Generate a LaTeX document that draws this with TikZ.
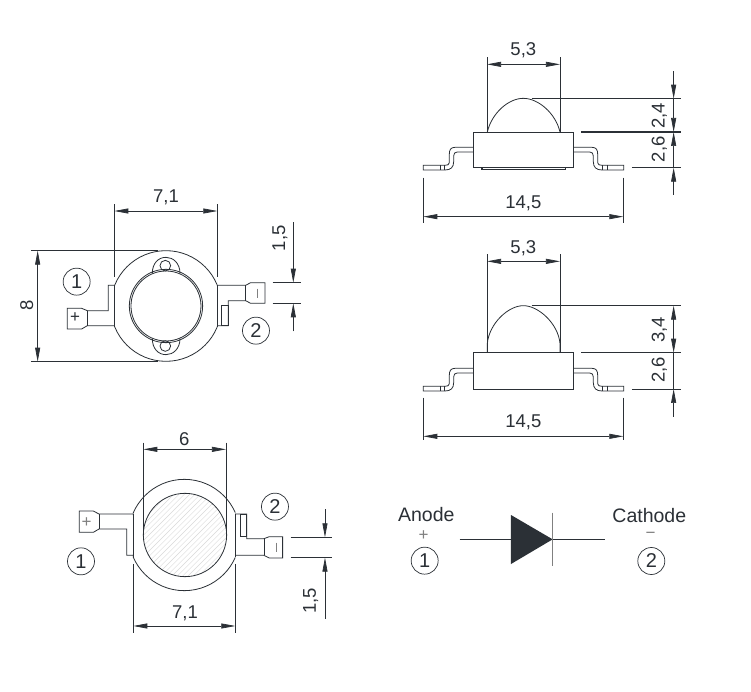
\documentclass[tikz,border=0pt]{standalone}
\usepackage{fontspec}
\setmainfont{Liberation Sans}
\usetikzlibrary{arrows.meta}
\definecolor{inkcol}{HTML}{2B3036}
\tikzset{
  outline/.style={color=inkcol,line width=0.8pt},
  dimline/.style={color=inkcol,line width=0.7pt},
  dimtip/.style={-{Triangle[length=14pt,width=5pt]}},
  dimtips/.style={{Triangle[length=14pt,width=5pt]}-{Triangle[length=14pt,width=5pt]}},
  dimtext/.style={text=inkcol,font=\fontsize{18.5}{18.5}\selectfont,inner sep=0pt},
  signtext/.style={text=gray,font=\fontsize{17}{17}\selectfont,inner sep=0pt},
  pinmark/.style={draw=inkcol,circle,line width=0.7pt,minimum size=27pt,inner sep=0pt,text=inkcol,font=\fontsize{20}{20}\selectfont},
  view/.style={shift={#1},x=0.3333pt,y=-0.3333pt}
}
\newcommand{\sidelead}{
  \draw [outline] (190,352) -- (135,352) .. controls (122,352) and (118,360) .. (118,372) -- (118,398)
    .. controls (118,404) and (112,406) .. (105,406) -- (40,406) -- (40,420) -- (105,420)
    .. controls (122,420) and (131,412) .. (131,395) -- (131,378)
    .. controls (131,370) and (135,366) .. (142,366) -- (190,366);
  \draw [outline] (90,406) -- (90,420) (103,406) -- (103,420);
}
\begin{document}
\begin{tikzpicture}[x=1pt,y=-1pt]
  \path [use as bounding box,fill=white] (0,0) rectangle (751,691);

  \begin{scope}[view={(10,180)}]
    \begin{scope}
      \clip (313,0) rectangle (622,700);
      \draw [outline] (468,378) circle [radius=166];
    \end{scope}
    \draw [outline] (313,316) -- (313,440) (622,316) -- (622,440);
    \draw [outline] (468,378) circle [radius=110];
    \draw [outline] (468,378) circle [radius=105];
    \draw [outline] (427,280) .. controls (427,250) and (445,232) .. (468,232) .. controls (490,232) and (510,250) .. (510,280);
    \draw [outline] (427,476) .. controls (427,506) and (445,524) .. (468,524) .. controls (490,524) and (510,506) .. (510,476);
    \draw [outline] (466,257) circle [radius=16];
    \draw [outline] (466,498) circle [radius=16];
    \draw [outline] (313,316) -- (295,316) -- (295,392) -- (232,392) -- (215,385) -- (172,385) -- (172,447) -- (215,447) -- (232,437) -- (313,437);
    \draw [outline] (232,392) -- (232,437);
    \node (plusa) [signtext,text=inkcol] at (195,414) {+};
    \draw [outline] (622,316) -- (707,316) -- (722,308) -- (765,308) -- (765,370) -- (722,370) -- (707,362) -- (655,362) -- (655,437) -- (622,437);
    \draw [outline] (707,316) -- (707,362);
    \draw [outline] (635,375) rectangle (655,437);
    \draw [outline,color=gray] (742,326) -- (742,354);
    \draw [dimline] (313,72) -- (313,290) (622,72) -- (622,290);
    \draw [dimline,dimtips] (313,93) -- (622,93);
    \node (widtha) [dimtext] at (468,52) {7,1};
    \draw [dimline] (63,212) -- (445,212) (63,545) -- (445,545);
    \draw [dimline,dimtips] (83,212) -- (83,545);
    \node (heighta) [dimtext,rotate=90] at (50,375) {8};
    \draw [dimline] (788,308) -- (872,308) (788,370) -- (872,370);
    \draw [dimline,dimtip] (850,127) -- (850,308);
    \draw [dimline,dimtip] (850,454) -- (850,370);
    \node (leada) [dimtext,rotate=90] at (810,175) {1,5};
    \node (onea) [pinmark] at (200,305) {1};
    \node (twoa) [pinmark] at (738,452) {2};
  \end{scope}

  \begin{scope}[view={(50,420)}]
    \begin{scope}
      \clip (249,0) rectangle (556,700);
      \draw [outline] (403,345) circle [radius=167];
    \end{scope}
    \begin{scope}
      \clip (405,345) circle [radius=125];
      \foreach \i in {-300,-284,...,300}
        \draw [color=gray!30,line width=0.4pt] (\i+405-200,545) -- (\i+405+200,145);
    \end{scope}
    \draw [outline] (405,345) circle [radius=125];
    \draw [outline] (249,282) -- (249,410) (556,282) -- (556,410);
    \draw [outline] (249,282) -- (147,282) -- (130,273) -- (88,273) -- (88,337) -- (130,337) -- (147,327) -- (230,327) -- (230,406) -- (249,406);
    \draw [outline] (147,282) -- (147,327);
    \node (plusb) [signtext] at (110,308) {+};
    \draw [outline] (556,282) -- (590,282) -- (590,356) -- (642,356) -- (658,350) -- (698,350) -- (698,414) -- (658,414) -- (642,406) -- (556,406);
    \draw [outline] (642,356) -- (642,406);
    \draw [outline] (572,284) rectangle (590,348);
    \draw [outline,color=gray] (678,368) -- (678,396);
    \draw [dimline] (280,68) -- (280,345) (528,68) -- (528,345);
    \draw [dimline,dimtips] (280,88) -- (528,88);
    \node (lensb) [dimtext] at (403,57) {6};
    \draw [dimline] (249,432) -- (249,638) (556,432) -- (556,638);
    \draw [dimline,dimtips] (250,618) -- (556,618);
    \node (widthb) [dimtext] at (405,580) {7,1};
    \draw [dimline] (722,352) -- (846,352) (722,413) -- (846,413);
    \draw [dimline,dimtip] (825,268) -- (825,352);
    \draw [dimline,dimtip] (825,596) -- (825,413);
    \node (leadb) [dimtext,rotate=90] at (782,543) {1,5};
    \node (oneb) [pinmark] at (93,424) {1};
    \node (twob) [pinmark] at (675,260) {2};
  \end{scope}

  \begin{scope}[view={(410,30)}]
    \draw [outline] (191,306) rectangle (490,413);
    \draw [outline,line width=1.1pt] (216,413) -- (216,418) -- (466,418) -- (466,413);
    \draw [outline] (232,306) .. controls (245,250) and (295,205) .. (340,205) .. controls (385,205) and (437,250) .. (450,306);
    \sidelead
    \begin{scope}[shift={(681,0)},xscale=-1]
      \sidelead
    \end{scope}
    \draw [dimline] (231,82) -- (231,306) (450,82) -- (450,306);
    \draw [dimline,dimtips] (231,103) -- (450,103);
    \node (domec) [dimtext] at (340,62) {5,3};
    \draw [dimline] (40,443) -- (40,580) (640,443) -- (640,580);
    \draw [dimline,dimtips] (40,560) -- (640,560);
    \node (widthc) [dimtext] at (340,520) {14,5};
    \draw [dimline] (365,206) -- (813,206) (666,413) -- (813,413);
    \draw [outline,line width=1.1pt] (514,306) -- (813,306);
    \draw [dimline,dimtip] (791,124) -- (791,206);
    \draw [dimline,dimtip] (791,206) -- (791,306);
    \draw [dimline,dimtip] (791,413) -- (791,306);
    \draw [dimline,dimtip] (791,495) -- (791,413);
    \node (capc) [dimtext,rotate=90] at (748,258) {2,4};
    \node (bodyc) [dimtext,rotate=90] at (748,358) {2,6};
  \end{scope}

  \begin{scope}[view={(410,235)}]
    \draw [outline] (191,353) rectangle (490,462);
    \draw [outline] (232,353) -- (232,325) .. controls (238,265) and (295,212) .. (340,212) .. controls (385,212) and (444,265) .. (450,325) -- (450,353);
    \begin{scope}[shift={(0,48)}]
      \sidelead
      \begin{scope}[shift={(681,0)},xscale=-1]
        \sidelead
      \end{scope}
    \end{scope}
    \draw [dimline] (231,58) -- (231,353) (450,58) -- (450,353);
    \draw [dimline,dimtips] (231,79) -- (450,79);
    \node (domed) [dimtext] at (340,40) {5,3};
    \draw [dimline] (40,488) -- (40,615) (640,488) -- (640,615);
    \draw [dimline,dimtips] (40,604) -- (640,604);
    \node (widthd) [dimtext] at (340,562) {14,5};
    \draw [dimline] (365,212) -- (813,212) (666,462) -- (813,462);
    \draw [outline,line width=1.1pt] (514,353) -- (813,353);
    \draw [dimline,dimtips] (791,212) -- (791,353);
    \draw [dimline] (791,353) -- (791,462);
    \draw [dimline,dimtip] (791,545) -- (791,462);
    \node (capd) [dimtext,rotate=90] at (748,285) {3,4};
    \node (bodyd) [dimtext,rotate=90] at (748,405) {2,6};
  \end{scope}

  \begin{scope}[view={(385,490)}]
    \draw [outline] (224,148) -- (660,148);
    \fill [inkcol] (378,75) -- (378,222) -- (503,148) -- cycle;
    \draw [color=gray,line width=1pt] (503,68) -- (503,228);
    \node (anode) [dimtext,font=\fontsize{19.5}{19.5}\selectfont] at (124,73) {Anode};
    \node (plus) [signtext] at (116,138) {+};
    \node (onee) [pinmark] at (119,212) {1};
    \node (cathode) [dimtext,font=\fontsize{19.5}{19.5}\selectfont] at (793,76) {Cathode};
    \node (minus) [signtext] at (797,135) {−};
    \node (twoe) [pinmark] at (799,213) {2};
  \end{scope}
\end{tikzpicture}
\end{document}
